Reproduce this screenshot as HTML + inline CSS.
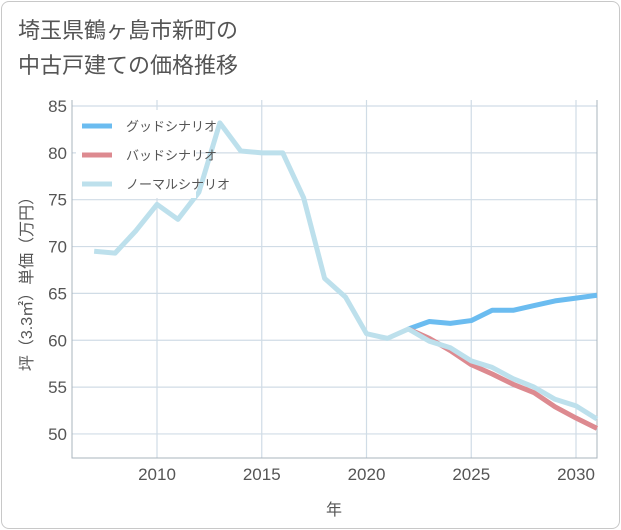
<!DOCTYPE html>
<html><head><meta charset="utf-8"><style>
body{margin:0;background:#fff;font-family:"Liberation Sans","Noto Sans CJK JP",sans-serif;}
.card{position:absolute;left:1px;top:1px;width:617px;height:526px;border:1px solid #c8c8c8;border-radius:8px;}
.title{position:absolute;left:18px;top:13px;font-size:22px;line-height:35px;color:#555;}
</style></head><body>
<div class="card"></div>
<div class="title">埼玉県鶴ヶ島市新町の<br>中古戸建ての価格推移</div>
<svg width="621" height="530" style="position:absolute;left:0;top:0" id="chart"></svg>
<script>
const years=[2007,2008,2009,2010,2011,2012,2013,2014,2015,2016,2017,2018,2019,2020,2021,2022,2023,2024,2025,2026,2027,2028,2029,2030,2031];
const normal=[69.5,69.3,71.7,74.5,72.9,75.8,83.2,80.2,80.0,80.0,75.2,66.6,64.6,60.7,60.2,61.2,59.9,59.2,57.8,57.1,55.9,55.0,53.7,53.0,51.6];
const goodYears=[2022,2023,2024,2025,2026,2027,2028,2029,2030,2031];
const good=[61.2,62.0,61.8,62.1,63.2,63.2,63.7,64.2,64.5,64.8];
const bad=[61.2,60.2,58.9,57.4,56.4,55.3,54.4,52.9,51.7,50.6];
const xTicks=[2010,2015,2020,2025,2030];
const yTicks=[50,55,60,65,70,75,80,85];
const L=72,R=597,T=100,B=458;
const X=v=>157+(v-2010)*20.95;
const Y=v=>106+(85-v)*9.37;
const svg=document.getElementById('chart');
const NS='http://www.w3.org/2000/svg';
function mk(t,a){const e=document.createElementNS(NS,t);for(const k in a)e.setAttribute(k,a[k]);svg.appendChild(e);return e;}
xTicks.forEach(t=>{
const g=mk('line',{x1:X(t),x2:X(t),y1:T,y2:B,stroke:'#d0dce6','stroke-width':1.2});


const tx=mk('text',{x:X(t),y:B+22,'text-anchor':'middle','font-size':17,fill:'#555'});tx.textContent=t;


});
yTicks.forEach(t=>{
const g=mk('line',{x1:L,x2:R,y1:Y(t),y2:Y(t),stroke:'#d0dce6','stroke-width':1.2});


const tx=mk('text',{x:L-5,y:Y(t)+6,'text-anchor':'end','font-size':17,fill:'#555'});tx.textContent=t;


});
const ax=mk('path',{d:`M${L} ${T}V${B}H${R}V${T}`,fill:'none',stroke:'#aab4bd','stroke-width':1});


function line(xs,vs,color,name){const p=mk('polyline',{points:xs.map((x,i)=>X(x)+','+Y(vs[i])).join(' '),fill:'none',stroke:color,'stroke-width':5,'stroke-linejoin':'round'});

}
line(goodYears,good,'#6bbcf0','good-scenario-line');
line(goodYears,bad,'#dd8a90','bad-scenario-line');
line(years,normal,'#bde0ec','normal-scenario-line');
const leg=[['グッドシナリオ','#6bbcf0'],['バッドシナリオ','#dd8a90'],['ノーマルシナリオ','#bde0ec']];
const lb=mk('rect',{x:76,y:110,width:120,height:88,fill:'#fff'});


leg.forEach((l,i)=>{const y=126+i*29;
const s=mk('line',{x1:82,x2:112,y1:y,y2:y,stroke:l[1],'stroke-width':5});


const t=mk('text',{x:126,y:y+5,'font-size':13,fill:'#555'});t.textContent=l[0];

});
const xt=mk('text',{x:334,y:515,'text-anchor':'middle','font-size':16,fill:'#555'});xt.textContent='年';


const yt=mk('text',{x:0,y:0,'text-anchor':'middle','font-size':16,fill:'#555',transform:'translate(32,280) rotate(-90)'});yt.textContent='坪（3.3㎡）単価（万円）';


</script>
</body></html>
